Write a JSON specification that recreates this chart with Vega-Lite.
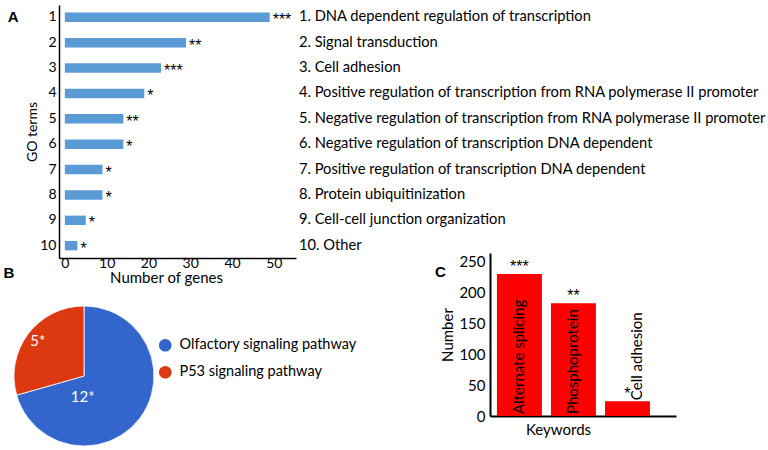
{
  "$schema": "https://vega.github.io/schema/vega-lite/v6.json",
  "background": "white",
  "padding": {"left": 3, "top": 5, "right": 0, "bottom": 0},
  "config": {
    "view": {"stroke": null},
    "font": "Lato",
    "axis": {"grid": false, "ticks": false, "domainColor": "black", "labelColor": "black", "titleColor": "black", "labelFont": "Lato", "titleFont": "Lato", "titleFontWeight": "normal", "labelFontSize": 14, "titleFontSize": 14, "labelOverlap": false},
    "title": {"font": "Liberation Sans", "fontWeight": "bold", "fontSize": 15, "color": "black"},
    "legend": {"labelFont": "Lato", "labelFontSize": 14.5, "labelColor": "black"},
    "text": {"font": "Lato", "color": "black"}
  },
  "columns": 1,
  "align": "none",
  "spacing": -32,
  "resolve": {"scale": {"color": "independent"}, "legend": {"color": "independent"}},
  "concat": [
    {
      "width": 237,
      "height": 253,
      "title": {"text": "A", "anchor": "start", "frame": "bounds", "offset": -20, "dx": -18},
      "data": {"values": [
        {"id": "1", "genes": 49, "stars": "***", "term": "1. DNA dependent regulation of transcription"},
        {"id": "2", "genes": 29, "stars": "**", "term": "2. Signal transduction"},
        {"id": "3", "genes": 23, "stars": "***", "term": "3. Cell adhesion"},
        {"id": "4", "genes": 19, "stars": "*", "term": "4. Positive regulation of transcription from RNA polymerase II promoter"},
        {"id": "5", "genes": 14, "stars": "**", "term": "5. Negative regulation of transcription from RNA polymerase II promoter"},
        {"id": "6", "genes": 14, "stars": "*", "term": "6. Negative regulation of transcription DNA dependent"},
        {"id": "7", "genes": 9, "stars": "*", "term": "7. Positive regulation of transcription DNA dependent"},
        {"id": "8", "genes": 9, "stars": "*", "term": "8. Protein ubiquitinization"},
        {"id": "9", "genes": 5, "stars": "*", "term": "9. Cell-cell junction organization"},
        {"id": "10", "genes": 3, "stars": "*", "term": "10. Other"}
      ]},
      "encoding": {
        "y": {"field": "id", "type": "nominal", "sort": null,
              "scale": {"paddingInner": 0.63, "paddingOuter": 0.3},
              "axis": {"title": "GO terms", "labelPadding": 3, "titlePadding": 0, "domainWidth": 1.5}}
      },
      "layer": [
        {
          "mark": {"type": "bar", "color": "#5B9BD5"},
          "encoding": {
            "x": {"field": "genes", "type": "quantitative",
                  "scale": {"domain": [-1.4, 55.3], "nice": false, "zero": false},
                  "axis": {"title": "Number of genes", "values": [0, 10, 20, 30, 40, 50], "labelPadding": -2, "titlePadding": 0, "titleFontSize": 15, "titleX": 107, "domainWidth": 1.5, "labelOverlap": false}},
            "x2": {"datum": 0}
          }
        },
        {
          "mark": {"type": "text", "align": "left", "baseline": "middle", "dx": 3, "dy": 3, "fontSize": 16, "font": "Liberation Sans"},
          "encoding": {
            "x": {"field": "genes", "type": "quantitative"},
            "text": {"field": "stars"}
          }
        },
        {
          "mark": {"type": "text", "align": "left", "baseline": "middle", "fontSize": 14.7},
          "encoding": {
            "x": {"datum": 56},
            "text": {"field": "term"}
          }
        }
      ]
    },
    {
      "columns": 2,
      "align": "none",
      "spacing": 77,
      "resolve": {"scale": {"color": "independent"}, "legend": {"color": "independent"}},
      "concat": [
        {
          "width": 50,
          "height": 246,
          "title": {"text": "B", "anchor": "start", "frame": "bounds", "offset": -28, "dx": -9},
          "data": {"values": [
            {"pathway": "Olfactory signaling pathway", "genes": 12, "label": "12*"},
            {"pathway": "P53 signaling pathway", "genes": 5, "label": "5*"}
          ]},
          "encoding": {
            "theta": {"field": "genes", "type": "quantitative", "stack": true}
          },
          "layer": [
            {
              "mark": {"type": "arc", "radius": 70, "stroke": "white", "strokeWidth": 0.8},
              "encoding": {
                "color": {"field": "pathway", "type": "nominal",
                          "scale": {"domain": ["Olfactory signaling pathway", "P53 signaling pathway"], "range": ["#3366CC", "#DC3912"]},
                          "legend": {"title": null, "orient": "none", "legendX": 99, "legendY": 85, "symbolType": "circle", "symbolSize": 160, "symbolStrokeWidth": 0, "rowPadding": 12, "labelOffset": 7, "labelLimit": 400}}
              }
            },
            {
              "mark": {"type": "text", "radius": 58, "color": "white", "fontSize": 15},
              "encoding": {
                "detail": {"field": "pathway"},
                "text": {"condition": {"test": "datum.genes === 5", "field": "label"}, "value": ""}
              }
            },
            {
              "mark": {"type": "text", "radius": 21, "color": "white", "fontSize": 15, "dx": -18, "dy": 8},
              "encoding": {
                "detail": {"field": "pathway"},
                "text": {"condition": {"test": "datum.genes === 12", "field": "label"}, "value": ""}
              }
            }
          ]
        },
        {
          "width": 186,
          "height": 163,
          "title": {"text": "C", "anchor": "start", "frame": "bounds", "offset": -27, "dx": -6},
          "data": {"values": [
            {"keyword": "Alternate splicing", "number": 229, "stars": "***"},
            {"keyword": "Phosphoprotein", "number": 182, "stars": "**"},
            {"keyword": "Cell adhesion", "number": 24, "stars": "*"}
          ]},
          "encoding": {
            "x": {"field": "keyword", "type": "nominal", "sort": null,
                  "scale": {"paddingInner": 0.167, "paddingOuter": 0.305, "align": 0.21},
                  "axis": {"labels": false, "title": "Keywords", "domainWidth": 2, "titlePadding": 6, "titleFontSize": 15, "titleX": 68}},
            "y": {"field": "number", "type": "quantitative",
                  "scale": {"domain": [0, 263], "nice": false},
                  "axis": {"values": [0, 50, 100, 150, 200, 250], "title": "Number", "domainWidth": 2, "labelFontSize": 15, "labelPadding": 5, "titleFontSize": 15, "titlePadding": 3, "labelOverlap": false}}
          },
          "layer": [
            {
              "mark": {"type": "bar", "color": "#FF0000"}
            },
            {
              "transform": [{"filter": "datum.keyword !== 'Cell adhesion'"}],
              "mark": {"type": "text", "angle": 270, "align": "left", "baseline": "middle", "dx": 2, "fontSize": 15},
              "encoding": {
                "y": {"datum": 0, "type": "quantitative",
                      "axis": {"values": [0, 50, 100, 150, 200, 250], "title": "Number", "domainWidth": 2, "labelFontSize": 15, "labelPadding": 5, "titleFontSize": 15, "titlePadding": 3, "labelOverlap": false}},
                "text": {"field": "keyword"}
              }
            },
            {
              "transform": [{"filter": "datum.keyword === 'Cell adhesion'"}],
              "mark": {"type": "text", "angle": 270, "align": "left", "baseline": "middle", "dx": 1, "dy": 10, "fontSize": 15},
              "encoding": {
                "text": {"field": "keyword"}
              }
            },
            {
              "mark": {"type": "text", "baseline": "bottom", "dy": 1, "fontSize": 16, "font": "Liberation Sans"},
              "encoding": {
                "text": {"field": "stars"}
              }
            }
          ]
        }
      ]
    }
  ]
}
